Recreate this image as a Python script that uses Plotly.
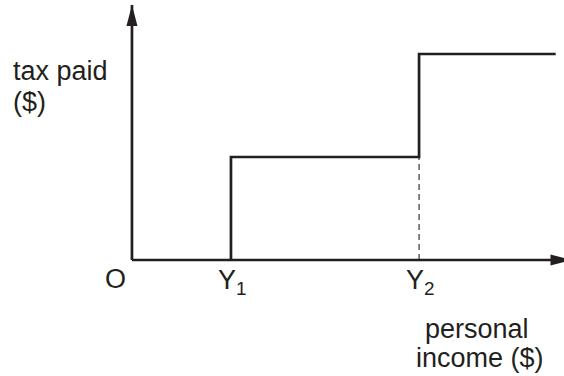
import plotly.graph_objects as go

# step tax schedule, in arbitrary income / tax units
income_thresholds = [10, 29]          # Y1, Y2
income_labels = ["Y<sub>1</sub>", "Y<sub>2</sub>"]
income_end = 42.8                     # where the top step stops
tax_levels = [1, 2]                   # tax paid on each step

x_axis_end = 44.4
y_axis_end = 2.476

INK = "#231f20"
FONT = "Liberation Sans, Arial, sans-serif"
W, H = 564, 376


def py(p):
    # pixel row -> paper y
    return 1 - p / H


def px(p):
    return p / W


fig = go.Figure()

# axes
fig.add_trace(go.Scatter(x=[0, x_axis_end], y=[0, 0], mode="lines",
                         line=dict(color=INK, width=2.7), hoverinfo="skip"))
fig.add_trace(go.Scatter(x=[0, 0], y=[0, y_axis_end], mode="lines",
                         line=dict(color=INK, width=2.7), hoverinfo="skip"))

# dashed drop line from the second threshold
fig.add_trace(go.Scatter(x=[income_thresholds[1]] * 2, y=[0, tax_levels[0]],
                         mode="lines", line=dict(color=INK, width=1.1, dash="6px,4px"),
                         hoverinfo="skip"))

# the step function itself
fig.add_trace(go.Scatter(
    x=[income_thresholds[0], income_thresholds[0], income_thresholds[1], income_end],
    y=[0, tax_levels[0], tax_levels[1], tax_levels[1]],
    mode="lines", line=dict(color=INK, width=2.7, shape="hv"), hoverinfo="skip"))

# arrowheads
fig.add_shape(type="path", xref="x", yref="y", xsizemode="pixel", ysizemode="pixel",
              xanchor=0, yanchor=y_axis_end, path="M0,0 L-5.5,-21 L5.5,-21 Z",
              fillcolor=INK, line=dict(width=0), layer="above")
fig.add_shape(type="path", xref="x", yref="y", xsizemode="pixel", ysizemode="pixel",
              xanchor=x_axis_end, yanchor=0, path="M0,0 L-21,5.5 L-21,-5.5 Z",
              fillcolor=INK, line=dict(width=0), layer="above")

txt = dict(family=FONT, size=27, color=INK)


def label(text, x, y, xanchor="left", xref="paper", xshift=0):
    fig.add_annotation(text=text, x=x, y=y, xref=xref, yref="paper",
                       xanchor=xanchor, yanchor="top", showarrow=False,
                       font=txt, borderpad=0, xshift=xshift)


label("tax paid", px(12), py(55))
label("($)", px(12), py(86))
label("O", px(115.5), py(262.5), xanchor="center")
for xv, lab in zip(income_thresholds, income_labels):
    label(lab, xv, py(263.5), xref="x", xshift=-14)
label("personal", px(477), py(312.5), xanchor="center")
label("income ($)", px(480), py(341.5), xanchor="center")

fig.update_layout(
    width=W, height=H,
    margin=dict(l=0, r=0, t=0, b=0),
    paper_bgcolor="white", plot_bgcolor="white",
    showlegend=False,
    xaxis=dict(range=[-13.33, 43.64], visible=False, fixedrange=True),
    yaxis=dict(range=[-1.126, 2.524], visible=False, fixedrange=True),
)

# the page body has an 8px margin by default; drop it so the figure fills the window
fig.write_html("out.html", config={"displayModeBar": False},
               post_script="document.body.style.margin='0';document.body.style.overflow='hidden';")
